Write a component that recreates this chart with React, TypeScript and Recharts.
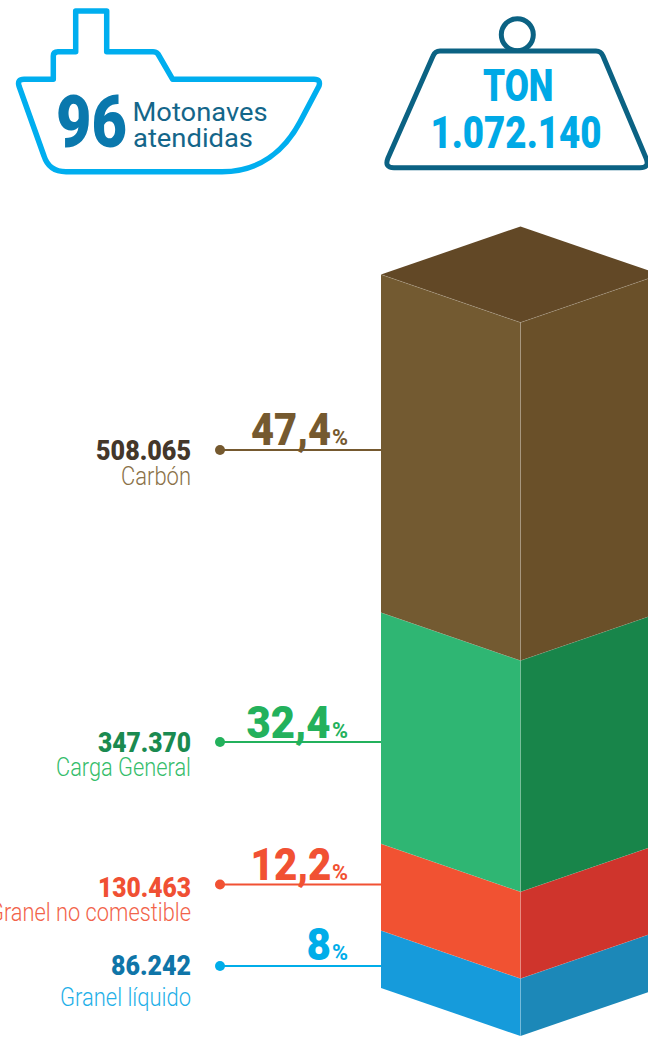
import { BarChart, Bar, XAxis, YAxis, Customized } from "recharts";

// Carga movilizada por tipo, de abajo hacia arriba en la columna
const categories = ["Granel líquido", "Granel no comestible", "Carga General", "Carbón"];
const tons = [86242, 130463, 347370, 508065];
const percents = ["8", "12,2", "32,4", "47,4"];
const totalLabel = "1.072.140";
const totalTons = 1072140;
const vessels = "96";

const tonLabels = ["86.242", "130.463", "347.370", "508.065"];

const row: Record<string, number | string> = { name: "Total" };
categories.forEach((c, i) => {
  row[c] = tons[i];
});
const chartData = [row];

// Colores de cada cara de la columna
const leftFace = ["#169bdb", "#f15232", "#2fb673", "#735a31"];
const rightFace = ["#1c88b8", "#cf342c", "#18854a", "#6a5029"];
const topFace = "#624826";
const lineColor = ["#00ade9", "#f15133", "#23b15c", "#75592f"];
const tonColor = ["#0f75a8", "#f05033", "#1a8a50", "#44372a"];
const nameColor = ["#1fb0e8", "#f2634a", "#35bd6b", "#8a7148"];

// Ubicación de cada rótulo lateral
const labelLayout = [
  { line: 966, ton: 975, tonW: 80, name: 1005.5, nameW: 131, pct: 959.5, pctX: 306.5, pctW: 24.5 },
  { line: 884.5, ton: 896.5, tonW: 93, name: 921, nameW: 202, pct: 880, pctX: 250.5, pctW: 81 },
  { line: 742, ton: 752, tonW: 93, name: 775.5, nameW: 135, pct: 737.5, pctX: 246.5, pctW: 84 },
  { line: 450, ton: 460, tonW: 95, name: 485, nameW: 70, pct: 445, pctX: 251, pctW: 80 },
];

const DEPTH = 48;
const FONT = "Roboto, sans-serif";
const SEAM = "rgba(255,255,255,0.2)";

function Prism(props: any) {
  const { x, y, width, height, tone } = props;
  const mid = x + width / 2;
  const right = x + width;
  const bottom = y + height;
  return (
    <g>
      {tone === 3 && (
        <polygon
          points={`${x},${y} ${mid},${y - DEPTH} ${right},${y} ${mid},${y + DEPTH}`}
          fill={topFace}
        />
      )}
      <polygon
        points={`${x},${y} ${mid},${y + DEPTH} ${mid},${bottom + DEPTH} ${x},${bottom}`}
        fill={leftFace[tone]}
      />
      <polygon
        points={`${mid},${y + DEPTH} ${right},${y} ${right},${bottom} ${mid},${bottom + DEPTH}`}
        fill={rightFace[tone]}
      />
      <polyline
        points={`${x},${y} ${mid},${y + DEPTH} ${right},${y}`}
        fill="none"
        stroke={SEAM}
        strokeWidth={0.8}
      />
      <line x1={mid} y1={y + DEPTH} x2={mid} y2={bottom + DEPTH} stroke={SEAM} strokeWidth={1} />
    </g>
  );
}

function Squeezed({ x, y, size, width, color, weight = 900, anchor = "start", children }: any) {
  return (
    <text
      x={x}
      y={y}
      fontSize={size}
      fontWeight={weight}
      fontFamily={FONT}
      fill={color}
      textAnchor={anchor}
      textLength={width}
      lengthAdjust="spacingAndGlyphs"
    >
      {children}
    </text>
  );
}

function SideLabels() {
  return (
    <g>
      {categories.map((name, i) => {
        const l = labelLayout[i];
        return (
          <g key={name}>
            <line x1={220} y1={l.line} x2={381} y2={l.line} stroke={lineColor[i]} strokeWidth={2} />
            <circle cx={220} cy={l.line} r={5} fill={lineColor[i]} />
            <Squeezed x={191} y={l.ton} size={27} width={l.tonW} color={tonColor[i]} anchor="end">
              {tonLabels[i]}
            </Squeezed>
            <Squeezed x={191} y={l.name} size={25.5} width={l.nameW} color={nameColor[i]} weight={300} anchor="end">
              {name}
            </Squeezed>
            <Squeezed x={l.pctX} y={l.pct} size={45} width={l.pctW} color={lineColor[i]}>
              {percents[i]}
            </Squeezed>
            <Squeezed x={332} y={l.pct} size={22} width={16} color={lineColor[i]} weight={700}>
              %
            </Squeezed>
          </g>
        );
      })}
    </g>
  );
}

function Header() {
  return (
    <g>
      {/* Barco */}
      <path
        d="M75.7 51.7 V11 H106.7 V51.7 H153 Q156 51.7 158 54 L172.7 79.3 H314 Q321 79.3 319 86 L300 122 C285 150 260 171.7 222 171.7 H66 Q49 171.7 44 156 L19 86 Q17 79.3 24 79.3 H53.3 V56 Q53.3 51.7 58 51.7 Z"
        fill="none"
        stroke="#00aeef"
        strokeWidth={5.5}
        strokeLinejoin="round"
      />
      <Squeezed x={56} y={146.7} size={72} width={71} color="#0a78ad">
        {vessels}
      </Squeezed>
      <Squeezed x={132.5} y={121} size={25} width={135} color="#14668a" weight={400}>
        Motonaves
      </Squeezed>
      <Squeezed x={133} y={146.7} size={25} width={120} color="#14668a" weight={400}>
        atendidas
      </Squeezed>

      {/* Pesa */}
      <circle cx={517.3} cy={34.7} r={16} fill="none" stroke="#0b6283" strokeWidth={5} />
      <path
        d="M440 51 H596 Q601 51 603 56 L646 158 Q650 167.7 640 167.7 H394 Q384 167.7 388 158 L433 56 Q435 51 440 51 Z"
        fill="#fff"
        stroke="#0b6283"
        strokeWidth={5}
        strokeLinejoin="round"
      />
      <Squeezed x={483} y={101} size={44} width={70.5} color="#00a9e6">
        TON
      </Squeezed>
      <Squeezed x={430.5} y={147.7} size={44} width={171} color="#00a9e6">
        {totalLabel}
      </Squeezed>
    </g>
  );
}

export default function App() {
  return (
    <div style={{ position: "absolute", left: 0, top: 0, width: 648, height: 1042, overflow: "hidden", background: "#fff" }}>
      <BarChart
        width={660}
        height={1042}
        data={chartData}
        margin={{ top: 274.5, right: 0, bottom: 54, left: 381 }}
        barCategoryGap={0}
      >
        <XAxis dataKey="name" hide />
        <YAxis hide domain={[0, totalTons]} />
        {categories.map((name, i) => (
          <Bar
            key={name}
            dataKey={name}
            stackId="carga"
            isAnimationActive={false}
            shape={(p: any) => <Prism {...p} tone={i} />}
          />
        ))}
        <Customized component={SideLabels} />
        <Customized component={Header} />
      </BarChart>
    </div>
  );
}
